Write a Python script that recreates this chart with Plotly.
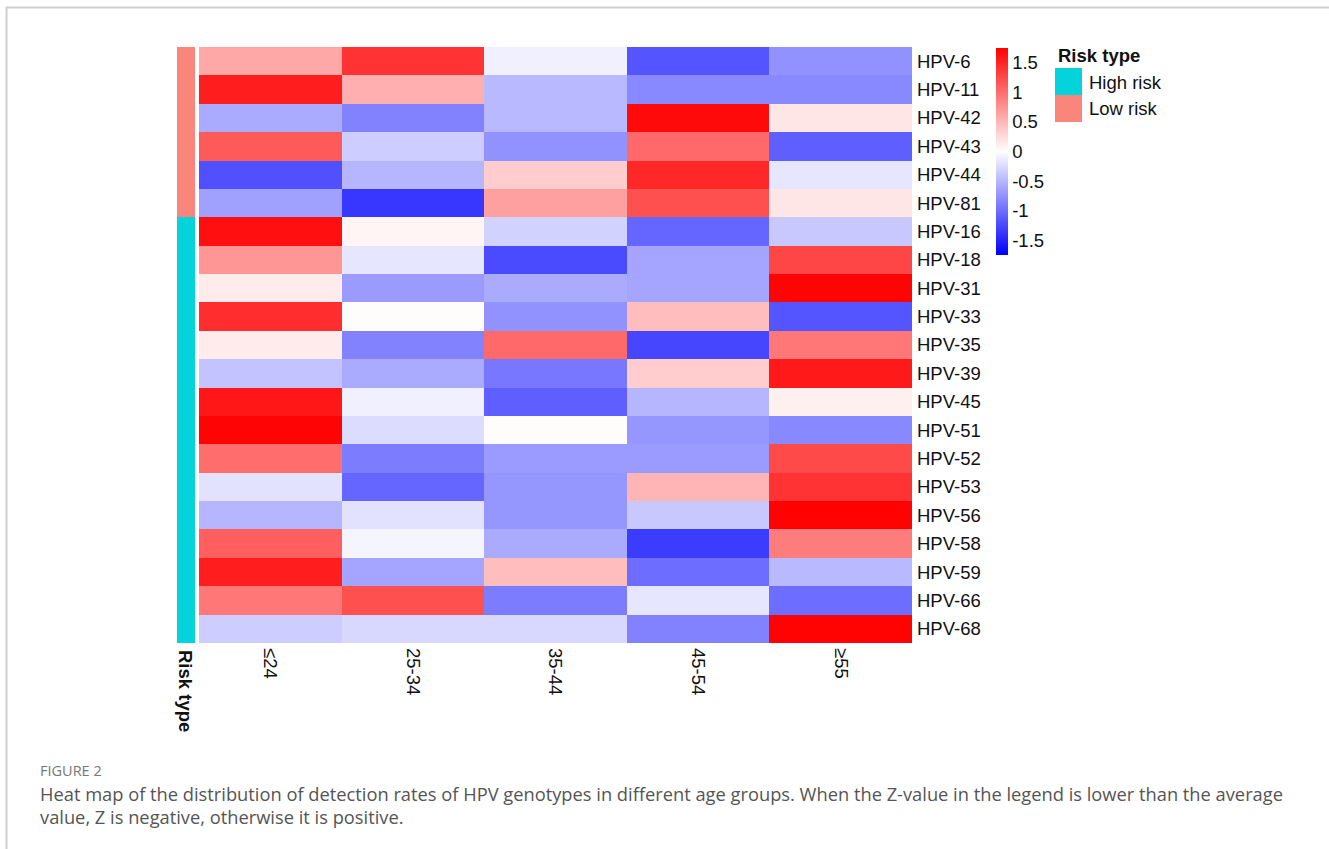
import plotly.graph_objects as go

W, H = 1329, 849

genotypes = ["HPV-6", "HPV-11", "HPV-42", "HPV-43", "HPV-44", "HPV-81", "HPV-16",
             "HPV-18", "HPV-31", "HPV-33", "HPV-35", "HPV-39", "HPV-45", "HPV-51",
             "HPV-52", "HPV-53", "HPV-56", "HPV-58", "HPV-59", "HPV-66", "HPV-68"]
age_groups = ["≤24", "25-34", "35-44", "45-54", "≥55"]
risk_type = ["Low risk"] * 6 + ["High risk"] * 15

z_le24 = [0.60, 1.55, -0.58, 1.13, -1.20, -0.65, 1.65, 0.72, 0.14, 1.44, 0.14,
          -0.41, 1.60, 1.72, 1.00, -0.20, -0.50, 1.10, 1.55, 0.93, -0.34]
z_25_34 = [1.40, 0.55, -0.86, -0.34, -0.50, -1.37, 0.07, -0.17, -0.69, 0.02, -0.86,
           -0.58, -0.10, -0.24, -0.90, -1.06, -0.20, -0.07, -0.62, 1.20, -0.27]
z_35_44 = [-0.10, -0.48, -0.48, -0.75, 0.34, 0.65, -0.31, -1.24, -0.58, -0.75, 1.03,
           -0.93, -1.10, 0.02, -0.69, -0.72, -0.72, -0.58, 0.45, -0.90, -0.27]
z_45_54 = [-1.17, -0.82, 1.68, 1.03, 1.48, 1.20, -1.06, -0.62, -0.62, 0.45, -1.27,
           0.34, -0.50, -0.72, -0.69, 0.51, -0.38, -1.34, -1.00, -0.17, -0.86]
z_ge55 = [-0.75, -0.82, 0.17, -1.10, -0.17, 0.17, -0.38, 1.27, 1.72, -1.17, 0.93,
          1.58, 0.10, -0.82, 1.24, 1.40, 1.73, 0.90, -0.48, -1.00, 1.73]

cbar_ticks = [1.5, 1, 0.5, 0, -0.5, -1, -1.5]
cbar_text = ["1.5", "1", "0.5", "0", "-0.5", "-1", "-1.5"]

HIGH = "#04D3DC"
LOW = "#FA867B"
FONT = "Liberation Sans, Arial, sans-serif"
CAP_FONT = "Open Sans, sans-serif"
FS = 18.5

columns = [z_le24, z_25_34, z_35_44, z_45_54, z_ge55]
z = [[col[i] for col in columns] for i in range(len(genotypes))]

def px_x(x):
    return x / W

def px_y(y):
    return 1 - y / H

fig = go.Figure()

fig.add_trace(go.Heatmap(
    z=z, x=age_groups, y=genotypes,
    colorscale=[[0, "#0000FF"], [0.5, "#FFFFFF"], [1, "#FF0000"]],
    zmin=-1.75, zmax=1.75, xaxis="x", yaxis="y",
    colorbar=dict(
        tickvals=cbar_ticks, ticktext=cbar_text, ticks="",
        thickness=12, thicknessmode="pixels",
        len=207, lenmode="pixels",
        x=px_x(996), xanchor="left", y=px_y(48), yanchor="top",
        xpad=0, ypad=0, outlinewidth=0,
        tickfont=dict(family=FONT, size=FS, color="#111"),
    ),
))

risk_z = [[0 if r == "High risk" else 1] for r in risk_type]
fig.add_trace(go.Heatmap(
    z=risk_z, x=["Risk type"], y=genotypes,
    colorscale=[[0, HIGH], [0.5, HIGH], [0.5, LOW], [1, LOW]],
    zmin=0, zmax=1, showscale=False, xaxis="x2", yaxis="y",
))

fig.update_layout(
    width=W, height=H,
    margin=dict(l=0, r=0, t=0, b=0),
    paper_bgcolor="white", plot_bgcolor="white",
    font=dict(family=FONT, size=FS, color="#111"),
    xaxis=dict(domain=[px_x(199), px_x(912)], tickangle=90, ticks="",
               showgrid=False, zeroline=False, showline=False,
               tickfont=dict(family=FONT, size=FS, color="#111"),
               ticklabelstandoff=4),
    xaxis2=dict(domain=[px_x(177), px_x(195)], showticklabels=False, ticks="",
                showgrid=False, zeroline=False, showline=False),
    yaxis=dict(domain=[px_y(643), px_y(47)], autorange="reversed", side="right",
               anchor="x", ticks="", showgrid=False, zeroline=False, showline=False,
               tickfont=dict(family=FONT, size=FS, color="#111"),
               ticklabelstandoff=4),
    showlegend=False,
)

annotations = [
    dict(text="<b>Risk type</b>", x=px_x(186), y=px_y(648), xref="paper", yref="paper",
         xanchor="center", yanchor="top", textangle=90, showarrow=False,
         font=dict(family=FONT, size=FS, color="#111")),
    dict(text="<b>Risk type</b>", x=px_x(1056), y=px_y(55), xref="paper", yref="paper",
         xanchor="left", yanchor="middle", showarrow=False,
         font=dict(family=FONT, size=FS, color="#111")),
    dict(text="High risk", x=px_x(1087), y=px_y(82), xref="paper", yref="paper",
         xanchor="left", yanchor="middle", showarrow=False,
         font=dict(family=FONT, size=FS, color="#111")),
    dict(text="Low risk", x=px_x(1087), y=px_y(108), xref="paper", yref="paper",
         xanchor="left", yanchor="middle", showarrow=False,
         font=dict(family=FONT, size=FS, color="#111")),
    dict(text="FIGURE 2", x=px_x(38), y=px_y(770), xref="paper", yref="paper",
         xanchor="left", yanchor="middle", showarrow=False,
         font=dict(family=CAP_FONT, size=14.5, color="#777")),
    dict(text="Heat map of the distribution of detection rates of HPV genotypes in different age groups. "
              "When the Z-value in the legend is lower than the average",
         x=px_x(38), y=px_y(793), xref="paper", yref="paper",
         xanchor="left", yanchor="middle", showarrow=False,
         font=dict(family=CAP_FONT, size=18.3, color="#555")),
    dict(text="value, Z is negative, otherwise it is positive.",
         x=px_x(38), y=px_y(816), xref="paper", yref="paper",
         xanchor="left", yanchor="middle", showarrow=False,
         font=dict(family=CAP_FONT, size=18.3, color="#555")),
]
fig.update_layout(annotations=annotations)

shapes = [
    dict(type="rect", xref="paper", yref="paper", x0=px_x(1055), x1=px_x(1082),
         y0=px_y(95), y1=px_y(68), fillcolor=HIGH, line=dict(width=0)),
    dict(type="rect", xref="paper", yref="paper", x0=px_x(1055), x1=px_x(1082),
         y0=px_y(122), y1=px_y(95), fillcolor=LOW, line=dict(width=0)),
    dict(type="line", xref="paper", yref="paper", x0=px_x(6), x1=1, y0=px_y(7.5), y1=px_y(7.5),
         line=dict(color="#CFCFCF", width=2)),
    dict(type="line", xref="paper", yref="paper", x0=px_x(6.5), x1=px_x(6.5), y0=px_y(7), y1=0,
         line=dict(color="#CFCFCF", width=2)),
]
fig.update_layout(shapes=shapes)

fig.write_html("out.html",
               config={"displayModeBar": False},
               post_script="document.body.style.margin='0';document.body.style.overflow='hidden';")
